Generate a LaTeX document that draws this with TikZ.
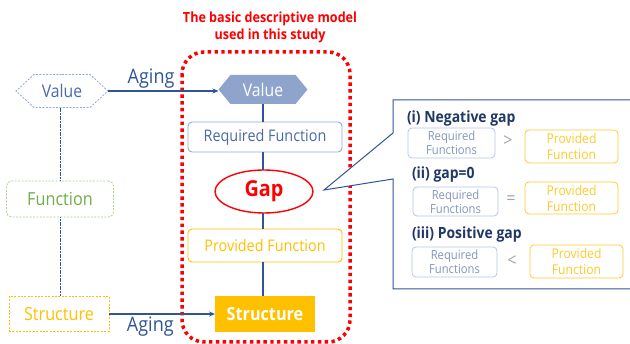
\documentclass[tikz,border=0pt]{standalone}
\usepackage{fontspec}
\setmainfont{Open Sans}[FakeStretch=0.9]
\usetikzlibrary{shapes.geometric,shapes.symbols,arrows.meta}

\definecolor{navy}{HTML}{2F5597}
\definecolor{deepnavy}{HTML}{203864}
\definecolor{softblue}{HTML}{8FAADC}
\definecolor{bluetext}{HTML}{4A6AA6}
\definecolor{paleblue}{HTML}{B4C7E7}
\definecolor{palebluetext}{HTML}{8497BD}
\definecolor{valuefill}{HTML}{8FA4CC}
\definecolor{amber}{HTML}{FFC000}
\definecolor{amberlight}{HTML}{FFCA2C}
\definecolor{leafborder}{HTML}{A9D18E}
\definecolor{leaftext}{HTML}{70AD47}
\definecolor{alarm}{HTML}{FF0000}
\definecolor{cmpgrey}{HTML}{A6A6A6}

\begin{document}
\begin{tikzpicture}[x=1pt,y=-1pt,
  every node/.style={inner sep=0pt, outer sep=0pt, font=\fontsize{16}{18}\selectfont},
  link/.style={draw=navy, line width=1.1pt},
  fineline/.style={draw=navy, line width=0.8pt, dash pattern=on 1.2pt off 0.4pt},
  agingarrow/.style={draw=navy, line width=1.1pt, -{Stealth[length=6pt,width=5pt]}},
  dashbox/.style={line width=0.8pt, dash pattern=on 2pt off 1.4pt},
  smallreq/.style={draw=paleblue, line width=0.8pt, rounded corners=4pt, align=center,
    text=palebluetext, font=\fontsize{12.5}{14}\selectfont},
  smallprov/.style={draw=amberlight, line width=0.8pt, rounded corners=4pt, align=center,
    text=amberlight, font=\fontsize{13.5}{16}\selectfont},
  heading/.style={anchor=west, text=deepnavy, font=\fontsize{15.5}{16}\selectfont\bfseries},
  cmp/.style={text=cmpgrey, font=\fontsize{18}{18}\selectfont},
]
\useasboundingbox (0,0) rectangle (630,344);

% left column: the three levels of the asset
\node[shape=signal, signal to=west and east, signal pointer angle=85,
      draw=softblue, dashbox, minimum width=92pt, minimum height=33pt,
      text=bluetext, font=\fontsize{17.5}{18}\selectfont] (lv) at (62,91) {Value};
\node[draw=leafborder, dashbox, rounded corners=5pt, minimum width=107pt, minimum height=36pt,
      text=leaftext, font=\fontsize{18}{18}\selectfont] (lf) at (60,199) {Function};
\node[draw=amber, dashbox, minimum width=100pt, minimum height=35pt,
      text=amber, font=\fontsize{18}{18}\selectfont] (ls) at (59,314) {Structure};
\draw[fineline] (lf.north) -- (lf.north |- lv.south);
\draw[fineline] (lf.south) -- (lf.south |- ls.north);

% the basic descriptive model
\node[text=alarm, align=center, font=\fontsize{14}{17}\selectfont\bfseries] (title) at (270,27.5)
  {The basic descriptive model\\used in this study};
\node[shape=signal, signal to=west and east, signal pointer angle=101,
      fill=valuefill, minimum width=89pt, minimum height=29pt,
      text=white, font=\fontsize{17.5}{18}\selectfont] (tv) at (263,89.5) {Value};
\node[draw=softblue, line width=0.9pt, rounded corners=4pt, fill=white,
      minimum width=154pt, minimum height=30pt, text=bluetext] (rf) at (265,137) {Required Function};
\node[draw=alarm, line width=1.4pt, ellipse, fill=white, minimum width=98pt, minimum height=43pt,
      text=alarm, font=\fontsize{22}{24}\selectfont\bfseries] (gap) at (264,191.5) {Gap};
\node[draw=amber, line width=0.9pt, rounded corners=4pt, fill=white,
      minimum width=154pt, minimum height=33pt, text=amber] (pf) at (265,245.5) {Provided Function};
\node[fill=amber, minimum width=100pt, minimum height=36pt,
      text=white, font=\fontsize{18}{18}\selectfont\bfseries] (ts) at (265,314) {Structure};
\draw[link] (rf.north -| tv.south) -- (tv.south);
\draw[link] (rf.south -| tv.south) -- (gap.north -| tv.south);
\draw[link] (gap.south -| tv.south) -- (pf.north -| tv.south);
\draw[link] (pf.south -| tv.south) -- (ts.north -| tv.south);

% dotted frame round the model
\draw[alarm, line width=3.5pt, dash pattern=on 3.4pt off 3.4pt, rounded corners=22pt]
  (182,52) rectangle (350,342);

% ageing links from the left column into the model
\draw[agingarrow] (lv.east) -- node[pos=0.39, above=3pt, text=navy, font=\fontsize{20}{20}\selectfont] (ag1) {Aging} (lv.east -| tv.west);
\draw[agingarrow] (ls.east) -- node[pos=0.39, below=3pt, text=navy, font=\fontsize{20}{20}\selectfont] (ag2) {Aging} (ts.west);

% callout explaining the three cases of the gap
\coordinate (tip) at (324,190);
\draw[navy, line width=1pt, fill=white]
  (393,100) -- (645,100) -- (645,289) -- (393,289) -- (393,179) -- (tip) -- (393,133) -- cycle;

\node[heading] (h1) at (407,118) {(i) Negative gap};
\node[smallreq, minimum width=87pt, minimum height=30pt] (r1) at (451.5,143) {Required\\Functions};
\node[cmp] (c1) at (508,141) {>};
\node[smallprov, minimum width=93pt, minimum height=33pt] (p1) at (571.5,146.5) {Provided\\Function};

\node[heading] (h2) at (412,174) {(ii) gap=0};
\node[smallreq, minimum width=85pt, minimum height=29pt] (r2) at (455.5,201.5) {Required\\Functions};
\node[cmp] (c2) at (511,200) {=};
\node[smallprov, minimum width=93pt, minimum height=32pt] (p2) at (571.5,198) {Provided\\Function};

\node[heading] (h3) at (412,234) {(iii) Positive gap};
\node[smallreq, minimum width=85pt, minimum height=30pt] (r3) at (454.5,262) {Required\\Functions};
\node[cmp] (c3) at (512,261) {<};
\node[smallprov, minimum width=93pt, minimum height=33pt] (p3) at (576.5,261.5) {Provided\\Function};
\end{tikzpicture}
\end{document}
